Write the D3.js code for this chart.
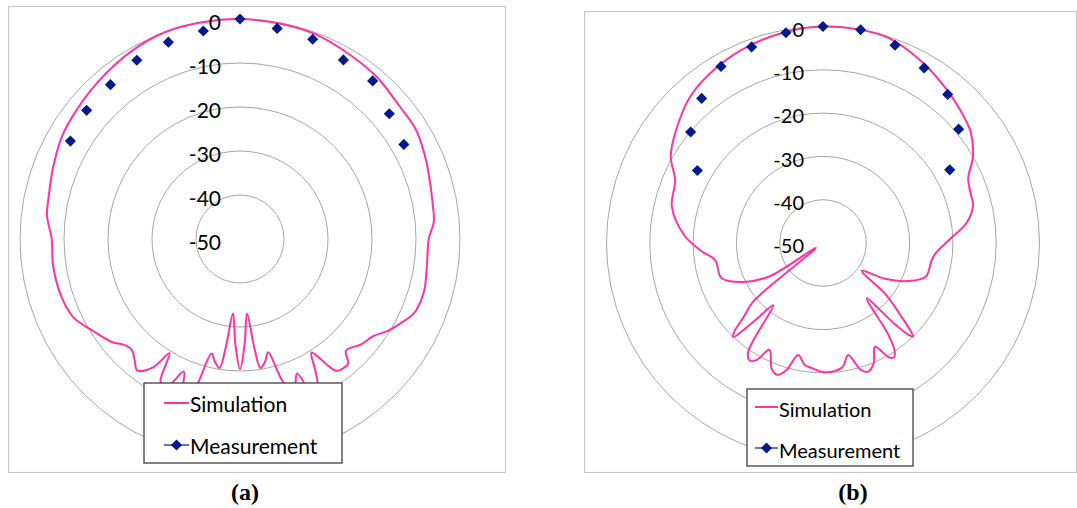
<!DOCTYPE html>
<html>
<head>
<meta charset="utf-8">
<script src="https://cdn.jsdelivr.net/npm/d3@7"></script>
<style>
  body { margin: 0; background: #fff; }
  svg { display: block; }
</style>
</head>
<body>
<div id="chart"></div>
<script>
// ring labels (dB)
const ring_values = [0, -10, -20, -30, -40, -50]
const db_min = -50
const db_max = 0

// measurement, every 10 degrees from -60 to 60
const meas_angle = [-60, -50, -40, -30, -20, -10, 0, 10, 20, 30, 40, 50, 60]
const meas_a = [-5.5, -4.5, -4.2, -3.1, -2.4, -2.0, 0, -1.4, -1.7, -3.0, -3.1, -5.7, -7.0]
const meas_b = [-16.5, -10.1, -6.4, -2.9, -1.8, -0.7, 0, 0, -1.4, -3.3, -5.2, -9.1, -16.2]

// simulation (a)
const sim_a_angle = [0, 10, 20, 30, 40, 50, 58, 65, 70, 80, 85, 90, 98, 106, 112, 114, 118, 122, 126, 131,
    136.5, 139, 141.5, 144, 147.8, 150, 152, 155, 157, 160, 163, 166, 168.5, 171, 172.5, 174.6, 177.5, 180, 182.5, 185.4,
    187.5, 189, 191.5, 194, 197, 200, 203, 206, 209, 211.7, 214, 218, 221, 224.3, 228, 231, 238, 245, 253, 262,
    270, 277, 282, 291, 300, 308, 318, 330, 340, 350]
const sim_a_db = [0, -0.2, -0.4, -1.2, -1.8, -2.8, -2.9, -3.8, -4.5, -5.5, -5.8, -7.1, -7.1, -6.5, -6.8, -7.3, -8.9, -10.5, -12.5, -13.5,
    -15, -12.5, -12.4, -13, -19.5, -16, -12.5, -11, -16.8, -14, -15.8, -23.5, -21.5, -20.3, -25, -33, -26, -20.4, -26, -33,
    -25, -20.3, -21.5, -23.2, -14, -12, -17.3, -13, -12.8, -19.5, -14.9, -12.1, -13.5, -14.8, -14.2, -12.7, -10.6, -8.1, -7.3, -7.1,
    -7.2, -5.8, -5.5, -4.5, -3.3, -2.7, -1.85, -0.7, 0, 0]

// simulation (b)
const sim_b_angle = [0, 10, 18, 29, 39, 46, 53, 60, 66, 71, 76, 82, 88, 95, 99, 108, 114, 120, 125.5, 129.5,
    133, 135, 136, 137, 138.5, 141.7, 144.5, 146.5, 148.3, 150, 153.4, 157, 160.6, 163.5, 167.3, 171, 175, 180, 185, 188.5,
    192.5, 196, 199, 202, 206.7, 209.5, 212, 214.5, 218.7, 221, 222.5, 223.7, 225, 227, 230, 235.5, 238, 244, 251, 261,
    266, 273, 283.5, 293, 299.5, 306.5, 318, 329.5, 339, 350]
const sim_b_db = [0, 0, -0.3, -2.4, -4.5, -5.9, -7.3, -10, -13.3, -14, -14.3, -16.5, -20.5, -23.8, -24.6, -25, -28.4, -33.5, -39, -31,
    -25.5, -21.5, -20, -21, -25, -33.7, -24, -20, -18.9, -19.5, -23.2, -20, -18.5, -19.5, -23.5, -21, -20.3, -20.2, -21, -21.5,
    -23.5, -19.5, -17.8, -18.5, -22.4, -19, -18, -19.5, -31.6, -27, -22.5, -20, -21, -25, -29, -48, -35.5, -29.5, -25.2, -24.8,
    -22, -18, -14.1, -12.9, -9.6, -7.5, -4.3, -2.5, -1.4, -0.5]

const legend_labels = ['Simulation', 'Measurement']
const captions = ['(a)', '(b)']

const color_sim = '#ff3399'
const color_meas = '#001a8c'
const color_ring = '#a6a6a6'
const font_main = 'Lato, "Open Sans", sans-serif'

const width = 1077
const height = 508

const svg = d3.select('#chart')
    .append('svg')
        .attr('width', width)
        .attr('height', height)

svg.append('rect')
    .attr('width', width)
    .attr('height', height)
    .attr('fill', '#fff')

function plotRadar(p) {
    const g = svg.append('g')

    // chart frame
    g.append('rect')
        .attr('x', p.frame[0] + 0.5)
        .attr('y', p.frame[1] + 0.5)
        .attr('width', p.frame[2])
        .attr('height', p.frame[3])
        .attr('fill', '#fff')
        .attr('stroke', '#c8c8c8')
        .attr('stroke-width', 1.2)

    const r = d3.scaleLinear().domain([db_min, db_max]).range([0, p.radius])
    const a = d3.scaleLinear().domain([0, 360]).range([0, 2 * Math.PI])

    const plot = g.append('g')
        .attr('transform', `translate(${p.cx}, ${p.cy})`)

    // rings
    plot.selectAll('circle.ring')
        .data(ring_values.filter(d => d > db_min))
        .join('circle')
            .attr('class', 'ring')
            .attr('r', d => r(d))
            .attr('fill', 'none')
            .attr('stroke', color_ring)
            .attr('stroke-width', 1)

    // simulation line
    const sim = p.sim_angle.map((d, i) => [a(d), r(p.sim_db[i])])
    plot.append('path')
        .datum(sim)
        .attr('d', d3.lineRadial()
            .angle(d => d[0])
            .radius(d => d[1])
            .curve(d3.curveCatmullRomClosed.alpha(0.5)))
        .attr('fill', 'none')
        .attr('stroke', color_sim)
        .attr('stroke-width', 2)

    // ring labels
    plot.selectAll('text.ring_label')
        .data(ring_values)
        .join('text')
            .attr('class', 'ring_label')
            .attr('x', -19)
            .attr('y', d => -r(d) + 3)
            .attr('dy', '0.36em')
            .attr('text-anchor', 'end')
            .style('font-family', font_main)
            .style('font-size', p.label_size + 'px')
            .attr('fill', '#000')
            .text(d => d)

    // measurement
    const diamond = d3.symbol().type(d3.symbolSquare).size(62)
    plot.selectAll('path.meas')
        .data(meas_angle.map((d, i) => ({ ang: a(d), db: p.meas[i] })))
        .join('path')
            .attr('class', 'meas')
            .attr('d', diamond)
            .attr('transform', d => `translate(${r(d.db) * Math.sin(d.ang)}, ${-r(d.db) * Math.cos(d.ang)}) rotate(45)`)
            .attr('fill', color_meas)

    // legend
    const lg = p.legend
    const leg = g.append('g')
        .attr('transform', `translate(${lg.x}, ${lg.y})`)
    leg.append('rect')
        .attr('width', lg.w)
        .attr('height', lg.h)
        .attr('fill', '#fff')
        .attr('stroke', '#404040')
        .attr('stroke-width', 1.3)

    leg.append('line')
        .attr('x1', lg.line_x0).attr('x2', lg.line_x1)
        .attr('y1', lg.row1).attr('y2', lg.row1)
        .attr('stroke', color_sim)
        .attr('stroke-width', 2)
    leg.append('line')
        .attr('x1', lg.line_x0).attr('x2', lg.line_x1)
        .attr('y1', lg.row2).attr('y2', lg.row2)
        .attr('stroke', color_meas)
        .attr('stroke-width', 1.2)
    leg.append('path')
        .attr('d', diamond)
        .attr('transform', `translate(${(lg.line_x0 + lg.line_x1) / 2}, ${lg.row2}) rotate(45)`)
        .attr('fill', color_meas)

    leg.selectAll('text')
        .data(legend_labels)
        .join('text')
            .attr('x', lg.text_x)
            .attr('y', (d, i) => (i == 0 ? lg.row1 : lg.row2) + lg.base)
            .style('font-family', font_main)
            .style('font-size', lg.size + 'px')
            .attr('fill', '#000')
            .text(d => d)

    // caption
    svg.append('text')
        .attr('x', p.caption_x)
        .attr('y', 500)
        .attr('text-anchor', 'middle')
        .style('font-family', '"Liberation Serif", "Times New Roman", serif')
        .style('font-weight', 'bold')
        .style('font-size', '24px')
        .attr('fill', '#000')
        .text(p.caption)
}

plotRadar({
    frame: [8, 6, 497, 466],
    cx: 240, cy: 239, radius: 220,
    sim_angle: sim_a_angle, sim_db: sim_a_db, meas: meas_a,
    label_size: 21,
    legend: { x: 144, y: 383, w: 198, h: 80, line_x0: 20, line_x1: 45, text_x: 46,
              row1: 20, row2: 62, base: 9, size: 21 },
    caption: captions[0], caption_x: 245
})

plotRadar({
    frame: [584, 11, 492, 461],
    cx: 823, cy: 243, radius: 216.5,
    sim_angle: sim_b_angle, sim_db: sim_b_db, meas: meas_b,
    label_size: 20,
    legend: { x: 747, y: 389, w: 166, h: 77, line_x0: 8, line_x1: 31, text_x: 32,
              row1: 18, row2: 59, base: 10, size: 20 },
    caption: captions[1], caption_x: 853
})
</script>
</body>
</html>
